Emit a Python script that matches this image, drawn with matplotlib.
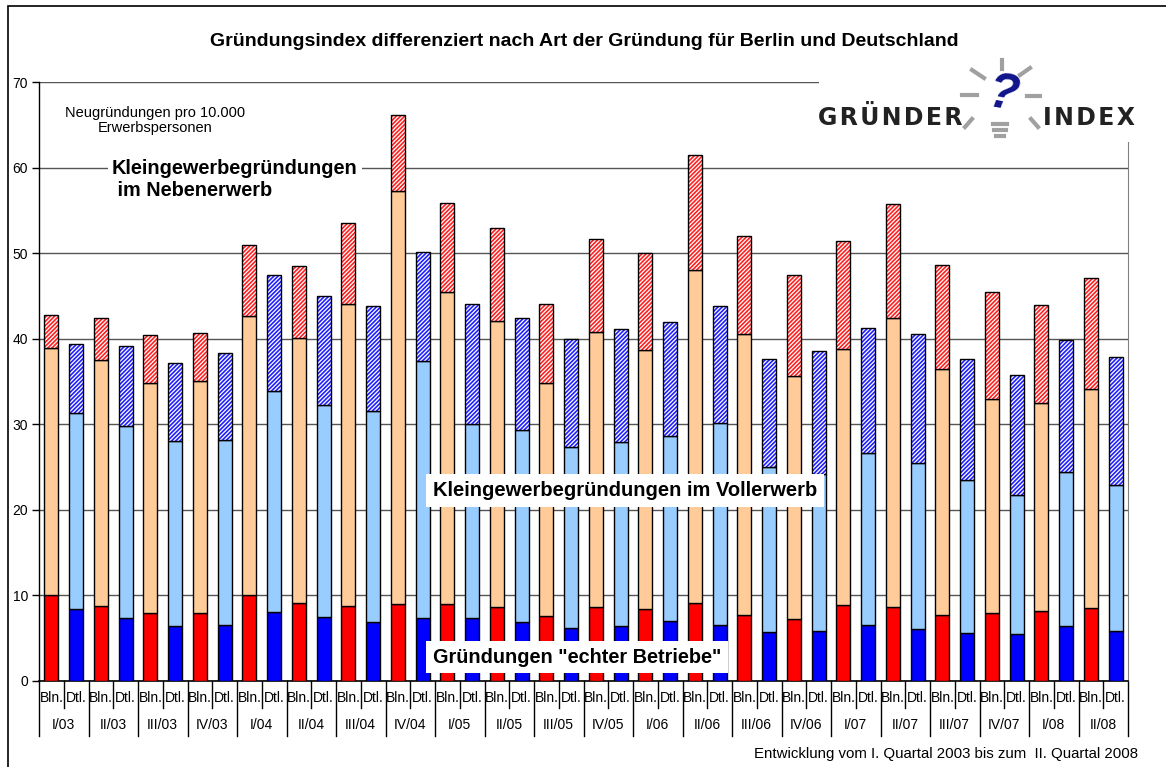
import numpy as np
import matplotlib
matplotlib.use("Agg")
import matplotlib.pyplot as plt
from matplotlib.patches import Rectangle

plt.rcParams['font.family'] = ['Liberation Sans', 'DejaVu Sans']
plt.rcParams['hatch.linewidth'] = 1.2

# data: cumulative levels (per 10.000 Erwerbspersonen)
quarters = ['I/03', 'II/03', 'III/03', 'IV/03', 'I/04', 'II/04', 'III/04', 'IV/04',
            'I/05', 'II/05', 'III/05', 'IV/05', 'I/06', 'II/06', 'III/06', 'IV/06',
            'I/07', 'II/07', 'III/07', 'IV/07', 'I/08', 'II/08']
regions = ['Bln.', 'Dtl.']

# Berlin: echte Betriebe, + Vollerwerb, + Nebenerwerb (totals)
bln_echt = [10.0, 8.8, 7.9, 7.9, 10.1, 9.1, 8.8, 9.0, 9.0, 8.7, 7.6, 8.6, 8.4, 9.1, 7.7, 7.3,
            8.9, 8.7, 7.7, 7.9, 8.2, 8.5]
bln_voll = [38.9, 37.5, 34.8, 35.0, 42.7, 40.1, 44.1, 57.3, 45.5, 42.1, 34.8, 40.8, 38.7, 48.0,
            40.5, 35.6, 38.8, 42.4, 36.5, 32.9, 32.5, 34.1]
bln_total = [42.8, 42.4, 40.4, 40.7, 51.0, 48.5, 53.5, 66.1, 55.9, 52.9, 44.1, 51.6, 50.0, 61.5,
             52.0, 47.5, 51.4, 55.8, 48.6, 45.5, 43.9, 47.1]
# Deutschland
dtl_echt = [8.4, 7.4, 6.4, 6.6, 8.1, 7.5, 6.9, 7.4, 7.4, 6.9, 6.2, 6.4, 7.0, 6.5, 5.7, 5.8,
            6.5, 6.1, 5.6, 5.5, 6.4, 5.8]
dtl_voll = [31.3, 29.8, 28.0, 28.2, 33.9, 32.3, 31.5, 37.4, 30.0, 29.3, 27.4, 27.9, 28.6, 30.2,
            25.0, 24.2, 26.6, 25.5, 23.5, 21.7, 24.4, 22.9]
dtl_total = [39.4, 39.1, 37.2, 38.3, 47.4, 45.0, 43.8, 50.1, 44.1, 42.4, 40.0, 41.1, 42.0, 43.8,
             37.6, 38.6, 41.2, 40.6, 37.6, 35.8, 39.8, 37.9]

W, H = 1166, 767
fig = plt.figure(figsize=(W / 100, H / 100), dpi=100)
ax = fig.add_axes([39 / W, 1 - 681 / H, (1128 - 39) / W, (681 - 82) / H])

n = len(quarters)
x_bln = np.arange(n) * 2
x_dtl = np.arange(n) * 2 + 1
bw = 0.57

def stack(ax, x, echt, voll, total, c_echt, c_voll, c_neben):
    echt = np.array(echt)
    voll = np.array(voll)
    total = np.array(total)
    ax.bar(x, echt, bw, color=c_echt, edgecolor='black', linewidth=1, zorder=3)
    ax.bar(x, voll - echt, bw, bottom=echt, color=c_voll, edgecolor='black', linewidth=1, zorder=3)
    ax.bar(x, total - voll, bw, bottom=voll, color='white', edgecolor=c_neben,
           hatch='////////', linewidth=0, zorder=3)
    ax.bar(x, total - voll, bw, bottom=voll, fill=False, edgecolor='black', linewidth=1, zorder=4)

stack(ax, x_bln, bln_echt, bln_voll, bln_total, '#ff0000', '#ffcc99', '#ff2020')
stack(ax, x_dtl, dtl_echt, dtl_voll, dtl_total, '#0000ff', '#99ccff', '#2020ff')

ax.set_xlim(-0.5, 2 * n - 0.5)
ax.set_ylim(0, 70)
ax.set_yticks(range(0, 71, 10))
ax.tick_params(axis='y', labelsize=10, length=5, width=1, direction='out', pad=3)
ax.set_xticks([])
ax.yaxis.grid(True, color='#555555', linewidth=1)
ax.set_axisbelow(True)
ax.spines['top'].set_visible(False)
ax.spines['right'].set_color('#808080')
ax.spines['left'].set_linewidth(1)
ax.spines['bottom'].set_linewidth(1.2)

# two-level category axis
tr = ax.get_xaxis_transform()
for i in range(2 * n + 1):
    xb = i - 0.5
    depth = -0.091 if i % 2 == 0 else -0.045
    ax.plot([xb, xb], [0, depth], color='black', linewidth=1, transform=tr, clip_on=False)
for i in range(n):
    ax.text(x_bln[i], -0.028, regions[0], transform=tr, ha='center', va='center', fontsize=10)
    ax.text(x_dtl[i], -0.028, regions[1], transform=tr, ha='center', va='center', fontsize=10)
    ax.text(x_bln[i] + 0.5, -0.073, quarters[i], transform=tr, ha='center', va='center', fontsize=10)

# annotations
ax.text(4.2, 65.5, 'Neugründungen pro 10.000\nErwerbspersonen', ha='center', va='center',
        fontsize=10.5, linespacing=1.15, zorder=5)
ax.text(2.45, 58.6, 'Kleingewerbegründungen\n im Nebenerwerb', ha='left', va='center',
        fontsize=14.3, fontweight='bold', linespacing=1.2, zorder=5,
        bbox=dict(facecolor='white', edgecolor='none', pad=3))
ax.text(15.4, 22.3, 'Kleingewerbegründungen im Vollerwerb', ha='left', va='center',
        fontsize=14.5, fontweight='bold', zorder=5,
        bbox=dict(facecolor='white', edgecolor='none', pad=5))
ax.text(15.4, 2.8, 'Gründungen "echter Betriebe"', ha='left', va='center',
        fontsize=14.3, fontweight='bold', zorder=5,
        bbox=dict(facecolor='white', edgecolor='none', pad=5))

fig.text(584 / W, 1 - 42 / H,
         'Gründungsindex differenziert nach Art der Gründung für Berlin und Deutschland',
         ha='center', va='center', fontsize=14, fontweight='bold')
fig.text(1138 / W, 1 - 754 / H, 'Entwicklung vom I. Quartal 2003 bis zum  II. Quartal 2008',
         ha='right', va='center', fontsize=10.8)

# outer frame
fig.patches.append(Rectangle((8 / W, -0.05), 1.1, 1 - 6 / H + 0.05, transform=fig.transFigure,
                             fill=False, edgecolor='black', linewidth=1.2))

# logo area
fig.patches.append(Rectangle((819 / W, 1 - 142 / H), 345 / W, 80 / H, transform=fig.transFigure,
                             facecolor='white', edgecolor='none', zorder=5))
hs = '\u200a'
fig.text(890 / W, 1 - 118 / H, hs.join('GRÜNDER'), ha='center', va='center', fontsize=17,
         fontweight='bold', color='#222222', zorder=6, family='DejaVu Sans')
fig.text(1089 / W, 1 - 118 / H, hs.join('INDEX'), ha='center', va='center', fontsize=17,
         fontweight='bold', color='#222222', zorder=6, family='DejaVu Sans')
fig.text(1003 / W, 1 - 96 / H, '?', ha='center', va='center', fontsize=36, fontweight='bold',
         style='italic', color='#10148a', zorder=7, rotation=-10)
rays = [((1002, 60), (1002, 69)), ((972, 70), (984, 78)), ((1030, 68), (1020, 75)),
        ((962, 95), (977, 95)), ((1027, 96), (1040, 96)), ((965, 127), (972, 119)),
        ((1038, 127), (1031, 119))]
for (xa, ya), (xb, yb) in rays:
    fig.add_artist(plt.Line2D([xa / W, xb / W], [1 - ya / H, 1 - yb / H], color='#a0a0a0',
                              linewidth=3, zorder=6))
for yy, ww in [(124, 14), (130, 12), (136, 8)]:
    fig.add_artist(plt.Line2D([(1000 - ww / 2) / W, (1000 + ww / 2) / W], [1 - yy / H] * 2,
                              color='#a0a0a0', linewidth=3, zorder=6))

fig.savefig('out.png', dpi=100)
